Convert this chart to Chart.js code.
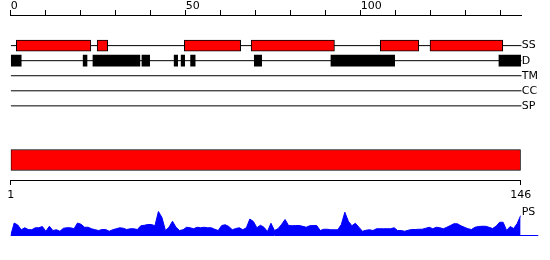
<!DOCTYPE html>
<html>
<head>
<meta charset="utf-8">
<script src="https://cdn.jsdelivr.net/npm/chart.js@4.4.0/dist/chart.umd.min.js"></script>
<style>
  body { margin: 0; background: #fff; }
  #wrap { position: relative; width: 550px; height: 260px; }
  canvas { position: absolute; left: 0; }
</style>
</head>
<body>
<div id="wrap">
  <canvas id="tracks" width="550" height="122" style="top:0"></canvas>
  <canvas id="domain" width="550" height="65" style="top:140px"></canvas>
  <canvas id="profile" width="550" height="60" style="top:200px"></canvas>
</div>
<script>
// --- Data ---
const seqLength = 146;
const trackNames = ['SS', 'D', 'TM', 'CC', 'SP'];
const rulerStep = 10;
const rulerLabels = [0, 50, 100];

// secondary structure (helix) boxes, in sequence units
const ssHelices = [[1.6, 22.9], [24.7, 27.7], [49.6, 65.7], [68.7, 92.5], [105.6, 116.6], [119.8, 140.6]];
// disordered regions
const disorderRegions = [[0, 3], [20.7, 21.8], [23.5, 36.9], [37.5, 39.7], [46.7, 47.7], [48.7, 49.7],
  [51.4, 52.7], [69.6, 71.7], [91.5, 109.7], [139.5, 145.7]];

const domainRange = [1, 146];
const domainTicks = [1, 146];

// PS profile, one value per residue
const psScores = [
  0.00, 0.50, 0.42, 0.23, 0.31, 0.24, 0.23, 0.31, 0.31, 0.36,
  0.17, 0.37, 0.20, 0.23, 0.17, 0.29, 0.31, 0.31, 0.27, 0.50,
  0.45, 0.33, 0.33, 0.27, 0.23, 0.20, 0.24, 0.24, 0.17, 0.23,
  0.27, 0.31, 0.29, 0.24, 0.27, 0.27, 0.24, 0.39, 0.41, 0.44,
  0.44, 0.39, 0.96, 0.72, 0.20, 0.33, 0.57, 0.33, 0.20, 0.23,
  0.33, 0.31, 0.27, 0.33, 0.31, 0.33, 0.31, 0.31, 0.25, 0.20,
  0.40, 0.43, 0.36, 0.23, 0.28, 0.31, 0.23, 0.31, 0.66, 0.56,
  0.31, 0.41, 0.33, 0.16, 0.49, 0.20, 0.27, 0.44, 0.64, 0.40,
  0.39, 0.40, 0.40, 0.37, 0.33, 0.39, 0.40, 0.40, 0.20, 0.25,
  0.25, 0.23, 0.23, 0.23, 0.44, 0.93, 0.57, 0.39, 0.49, 0.33,
  0.17, 0.21, 0.23, 0.20, 0.27, 0.27, 0.27, 0.27, 0.27, 0.31,
  0.20, 0.20, 0.17, 0.21, 0.24, 0.24, 0.25, 0.25, 0.29, 0.33,
  0.27, 0.33, 0.31, 0.27, 0.33, 0.40, 0.47, 0.47, 0.39, 0.33,
  0.27, 0.24, 0.33, 0.36, 0.37, 0.37, 0.33, 0.28, 0.37, 0.53,
  0.53, 0.20, 0.36, 0.28, 0.48, 0.80
];
const psBaselineEnd = 151;

// --- Defaults ---
Chart.defaults.font.family = 'DejaVu Sans';
Chart.defaults.font.size = 11;
Chart.defaults.color = '#000';
Chart.defaults.animation = false;
Chart.defaults.plugins.legend.display = false;
Chart.defaults.plugins.tooltip.enabled = false;

const rowOf = name => trackNames.indexOf(name) + 1;

// --- Feature tracks with ruler ---
// (canvas is 7px taller than the plot: the right axis reserves half a label height below)
new Chart(document.getElementById('tracks'), {
  type: 'bar',
  data: {
    datasets: [
      {
        data: ssHelices.map(r => ({ x: r, y: rowOf('SS') })),
        backgroundColor: '#ff0000', borderColor: '#000', borderWidth: 1,
        borderSkipped: false, barThickness: 11, grouped: false, order: 1
      },
      {
        data: disorderRegions.map(r => ({ x: r, y: rowOf('D') })),
        backgroundColor: '#000', borderWidth: 0,
        barThickness: 11, grouped: false, order: 1
      },
      ...trackNames.map(name => ({
        type: 'line',
        data: [{ x: 0, y: rowOf(name) }, { x: seqLength, y: rowOf(name) }],
        borderColor: '#000', borderWidth: 1, pointRadius: 0, order: 2
      }))
    ]
  },
  options: {
    indexAxis: 'y',
    responsive: false,
    layout: { padding: { left: 10.7, top: 0, right: 0, bottom: 0 } },
    scales: {
      x: {
        type: 'linear', position: 'top', min: 0, max: seqLength,
        ticks: {
          stepSize: rulerStep, includeBounds: false, autoSkip: false, maxRotation: 0,
          align: 'start', padding: -3,
          callback: v => rulerLabels.includes(v) ? String(v) : ''
        },
        grid: { drawOnChartArea: false, tickLength: 5, color: '#000' },
        border: { display: true, color: '#000' },
        afterFit: s => { s.height = 15; }
      },
      y: {
        type: 'linear', position: 'right', reverse: true, offset: false,
        min: -1.0333, max: 5.6333,
        afterBuildTicks: s => { s.ticks = trackNames.map((n, i) => ({ value: i + 1 })); },
        ticks: { padding: 0, autoSkip: false, callback: v => trackNames[v - 1] },
        grid: { display: false, drawTicks: false, offset: false },
        border: { display: false },
        afterFit: s => { s.width = 28.3; }
      }
    }
  }
});

// --- Domain bar with sequence axis ---
new Chart(document.getElementById('domain'), {
  type: 'bar',
  data: {
    datasets: [{
      data: [{ x: domainRange, y: 0 }],
      backgroundColor: '#ff0000', borderColor: '#000', borderWidth: 1,
      borderSkipped: false, barThickness: 21
    }]
  },
  options: {
    indexAxis: 'y',
    responsive: false,
    layout: { padding: { left: 10.7, right: 29.3, top: 0, bottom: 0 } },
    scales: {
      x: {
        type: 'linear', position: 'bottom', min: domainTicks[0], max: domainTicks[1],
        afterBuildTicks: s => { s.ticks = domainTicks.map(v => ({ value: v })); },
        ticks: { autoSkip: false, maxRotation: 0, padding: 4 },
        grid: { drawOnChartArea: false, tickLength: 5, color: '#000' },
        border: { display: true, color: '#000' },
        afterFit: s => { s.height = 25; }
      },
      y: { type: 'linear', display: false, offset: false, min: -1, max: 1 }
    }
  }
});

// --- PS profile ---
const psLabelAt = 0.93;
new Chart(document.getElementById('profile'), {
  type: 'line',
  data: {
    datasets: [
      {
        data: psScores.map((v, i) => ({ x: i + 1, y: v })),
        fill: 'origin', backgroundColor: '#0000ff', borderColor: '#0000ff',
        borderWidth: 1, pointRadius: 0, tension: 0
      },
      {
        data: [{ x: 1, y: 0 }, { x: psBaselineEnd, y: 0 }],
        borderColor: '#0000ff', borderWidth: 1, pointRadius: 0, fill: false, clip: false
      }
    ]
  },
  options: {
    responsive: false,
    layout: { padding: { left: 10.7, top: 10.5, bottom: 24.5, right: 0 } },
    scales: {
      x: { type: 'linear', display: false, min: 1, max: seqLength },
      y: {
        type: 'linear', position: 'right', min: 0, max: 1,
        afterBuildTicks: s => { s.ticks = [{ value: psLabelAt }]; },
        ticks: { padding: 1, callback: () => 'PS' },
        grid: { display: false, drawTicks: false },
        border: { display: false },
        afterFit: s => { s.width = 29.3; }
      }
    }
  }
});
</script>
</body>
</html>
